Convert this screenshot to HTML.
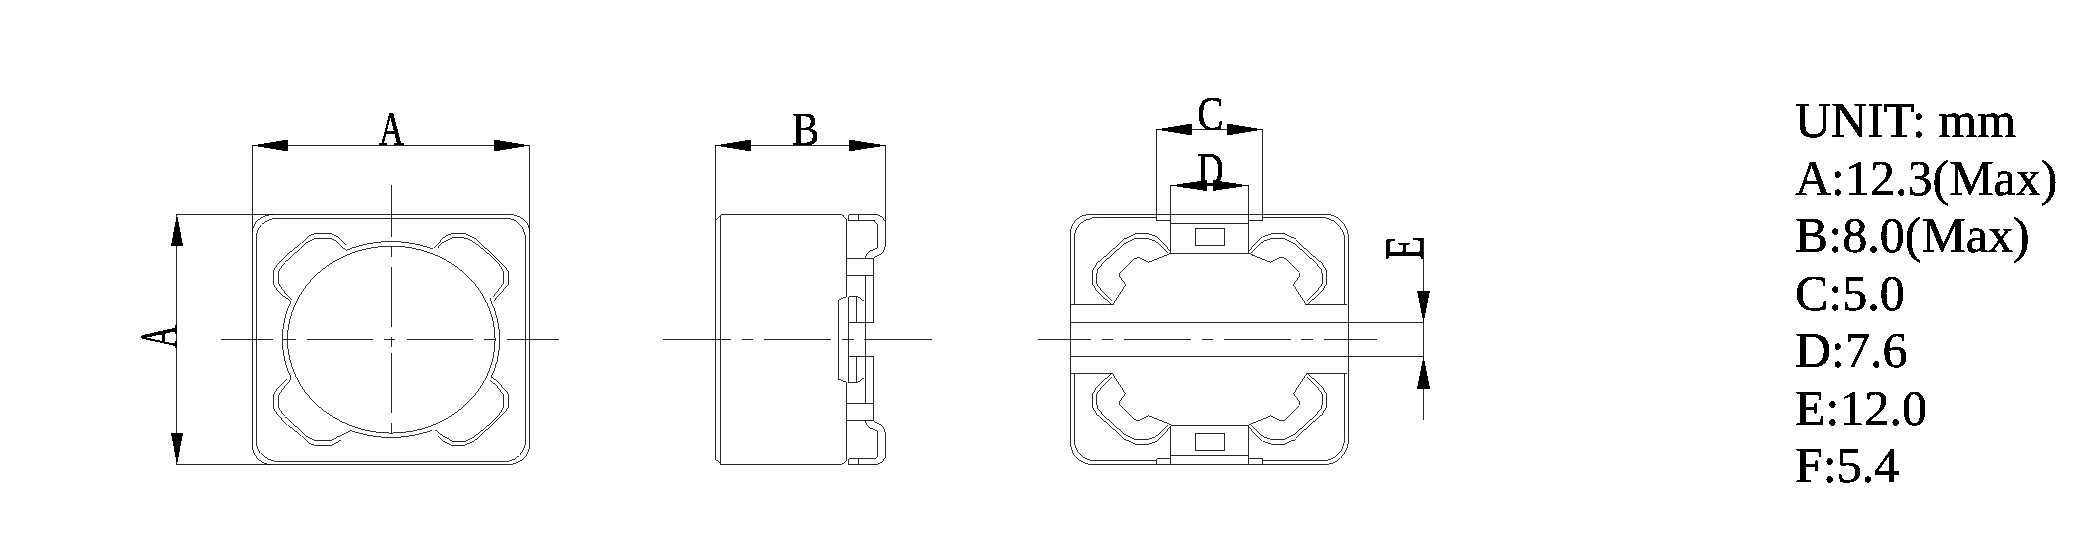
<!DOCTYPE html>
<html><head><meta charset="utf-8"><style>
html,body{margin:0;padding:0;background:#fff;}
svg{display:block;will-change:transform;}
.g path,.g rect,.g ellipse{fill:none;stroke:#282828;stroke-width:1;}
.g path.c,.g ellipse{stroke:#000;stroke-width:0.8;}
.f{fill:#000;stroke:none;}
.dl{font-family:"Liberation Serif",serif;font-size:47px;fill:#000;stroke:#000;stroke-width:0.6px;}
.rt{font-family:"Liberation Serif",serif;font-size:50px;fill:#000;stroke:#000;stroke-width:0.5px;}
</style></head><body>
<svg width="2079" height="547" viewBox="0 0 2079 547">
<rect x="0" y="0" width="2079" height="547" fill="#fff"/>
<g class="g" shape-rendering="crispEdges">
<path d="M252.50,145.50 L529.50,145.50"/>
<polygon class="f" points="252.00,145.50 288.00,151.50 288.00,139.50"/>
<polygon class="f" points="530.00,145.50 494.00,139.50 494.00,151.50"/>
<path d="M252.50,145.00 L252.50,234.00"/>
<path d="M529.50,145.00 L529.50,234.00"/>
<path d="M176.00,214.50 L274.00,214.50"/>
<path d="M176.00,464.50 L274.00,464.50"/>
<path d="M274.00,214.50 L508.80,214.50 M529.50,231.50 L529.50,445.20 M507.70,464.50 L271.30,464.50 M252.50,445.20 L252.50,232.00"/><path class="c" d="M252.50,232.00 L252.55,230.86 L252.68,229.72 L252.91,228.59 L253.23,227.47 L253.64,226.37 L254.14,225.30 L254.72,224.26 L255.38,223.25 L256.12,222.28 L256.94,221.35 L257.84,220.46 L258.80,219.63 L259.82,218.84 L260.91,218.12 L262.06,217.45 L263.25,216.84 L264.49,216.30 L265.77,215.83 L267.09,215.43 L268.44,215.10 L269.81,214.84 L271.19,214.65 L272.59,214.54 L274.00,214.50 M508.80,214.50 L510.15,214.54 L511.50,214.65 L512.84,214.83 L514.16,215.08 L515.45,215.40 L516.72,215.79 L517.96,216.25 L519.15,216.78 L520.30,217.37 L521.40,218.01 L522.45,218.72 L523.44,219.48 L524.36,220.29 L525.22,221.15 L526.01,222.06 L526.73,223.00 L527.37,223.98 L527.92,224.99 L528.40,226.04 L528.79,227.10 L529.10,228.18 L529.32,229.28 L529.46,230.39 L529.50,231.50 M529.50,445.20 L529.45,446.46 L529.31,447.72 L529.08,448.97 L528.76,450.20 L528.34,451.40 L527.84,452.59 L527.25,453.74 L526.58,454.85 L525.83,455.92 L525.00,456.95 L524.09,457.93 L523.11,458.85 L522.07,459.71 L520.97,460.51 L519.81,461.25 L518.60,461.91 L517.34,462.51 L516.04,463.03 L514.71,463.48 L513.34,463.84 L511.95,464.13 L510.55,464.33 L509.13,464.46 L507.70,464.50 M271.30,464.50 L270.07,464.46 L268.85,464.33 L267.63,464.13 L266.43,463.84 L265.26,463.48 L264.11,463.03 L262.98,462.51 L261.90,461.91 L260.86,461.25 L259.86,460.51 L258.90,459.71 L258.01,458.85 L257.17,457.93 L256.38,456.95 L255.67,455.92 L255.02,454.85 L254.44,453.74 L253.93,452.59 L253.50,451.40 L253.14,450.20 L252.86,448.97 L252.66,447.72 L252.54,446.46 L252.50,445.20"/>
<path d="M277.00,218.50 L507.00,218.50 M525.50,240.00 L525.50,440.70 M504.00,461.50 L279.50,461.50 M256.50,441.50 L256.50,237.00"/><path class="c" d="M256.50,237.00 L256.54,235.79 L256.68,234.59 L256.89,233.39 L257.20,232.21 L257.59,231.05 L258.06,229.92 L258.61,228.82 L259.25,227.75 L259.95,226.72 L260.74,225.74 L261.59,224.80 L262.50,223.92 L263.48,223.09 L264.52,222.32 L265.61,221.62 L266.75,220.98 L267.93,220.41 L269.15,219.91 L270.41,219.48 L271.69,219.13 L273.00,218.86 L274.32,218.66 L275.66,218.54 L277.00,218.50 M507.00,218.50 L508.21,218.55 L509.41,218.68 L510.61,218.91 L511.79,219.23 L512.95,219.64 L514.08,220.14 L515.18,220.72 L516.25,221.38 L517.28,222.12 L518.26,222.94 L519.20,223.84 L520.08,224.80 L520.91,225.82 L521.68,226.91 L522.38,228.06 L523.02,229.25 L523.59,230.49 L524.09,231.77 L524.52,233.09 L524.87,234.44 L525.14,235.81 L525.34,237.19 L525.46,238.59 L525.50,240.00 M525.50,440.70 L525.45,442.06 L525.32,443.41 L525.09,444.76 L524.77,446.08 L524.36,447.39 L523.86,448.66 L523.28,449.90 L522.62,451.10 L521.88,452.26 L521.06,453.36 L520.16,454.41 L519.20,455.41 L518.18,456.34 L517.09,457.20 L515.94,457.99 L514.75,458.71 L513.51,459.35 L512.23,459.92 L510.91,460.40 L509.56,460.79 L508.19,461.10 L506.81,461.32 L505.41,461.46 L504.00,461.50 M279.50,461.50 L278.00,461.46 L276.50,461.33 L275.01,461.12 L273.55,460.82 L272.11,460.44 L270.70,459.98 L269.33,459.44 L268.00,458.82 L266.72,458.13 L265.50,457.37 L264.34,456.54 L263.24,455.64 L262.21,454.69 L261.25,453.68 L260.38,452.61 L259.58,451.50 L258.87,450.35 L258.25,449.15 L257.72,447.93 L257.28,446.68 L256.94,445.40 L256.70,444.11 L256.55,442.81 L256.50,441.50"/>
<path d="M176.50,214.50 L176.50,464.50"/>
<polygon class="f" points="177.00,214.00 171.00,245.50 183.00,245.50"/>
<polygon class="f" points="177.00,465.00 183.00,433.00 171.00,433.00"/>
<ellipse cx="391.3" cy="339.6" rx="103.8" ry="93.5"/>
<path d="M390.73,241.60 L392.21,241.61"/><path class="c" d="M346.40,250.50 L347.64,249.74 L349.00,249.22 L350.37,248.71 L351.74,248.22 L353.12,247.75 L354.51,247.29 L355.91,246.85 L357.31,246.43 L358.72,246.03 L360.13,245.64 L361.55,245.27 L362.98,244.92 L364.41,244.58 L365.84,244.26 L367.28,243.96 L368.73,243.68 L370.17,243.42 L371.63,243.17 L373.08,242.94 L374.54,242.73 L376.00,242.54 L377.47,242.36 L378.94,242.21 L380.41,242.07 L381.88,241.95 L383.35,241.84 L384.83,241.76 L386.30,241.69 L387.78,241.64 L389.26,241.61 L390.73,241.60 M392.21,241.61 L393.69,241.63 L395.17,241.67 L396.64,241.73 L398.12,241.81 L399.59,241.91 L401.07,242.02 L402.54,242.15 L404.00,242.30 L405.47,242.47 L406.93,242.66 L408.39,242.86 L409.85,243.09 L411.30,243.33 L412.75,243.58 L414.20,243.86 L415.64,244.15 L417.08,244.46 L418.51,244.79 L419.94,245.14 L421.36,245.50 L422.78,245.88 L424.19,246.28 L425.59,246.70 L426.99,247.13 L428.38,247.58 L429.76,248.05 L431.14,248.53 L432.80,248.40"/>
<path d="M499.60,339.11 L499.59,340.45"/><path class="c" d="M490.40,298.30 L490.29,299.83 L490.88,301.07 L491.46,302.31 L492.02,303.56 L492.56,304.82 L493.08,306.08 L493.58,307.35 L494.06,308.63 L494.52,309.91 L494.96,311.20 L495.39,312.49 L495.79,313.79 L496.17,315.10 L496.53,316.40 L496.88,317.72 L497.20,319.03 L497.50,320.35 L497.79,321.68 L498.05,323.01 L498.29,324.34 L498.51,325.67 L498.71,327.01 L498.89,328.34 L499.05,329.68 L499.19,331.03 L499.31,332.37 L499.41,333.72 L499.49,335.06 L499.55,336.41 L499.58,337.76 L499.60,339.11 M499.59,340.45 L499.57,341.80 L499.52,343.15 L499.46,344.50 L499.37,345.84 L499.26,347.19 L499.14,348.53 L498.99,349.87 L498.82,351.21 L498.63,352.55 L498.42,353.89 L498.19,355.22 L497.94,356.55 L497.67,357.87 L497.38,359.20 L497.07,360.51 L496.74,361.83 L496.39,363.14 L496.02,364.45 L495.62,365.75 L495.21,367.04 L494.78,368.34 L494.33,369.62 L493.86,370.90 L493.37,372.18 L492.86,373.44 L492.34,374.70 L491.79,375.96 L492.00,377.50"/>
<path d="M391.19,437.40 L389.79,437.39"/><path class="c" d="M432.40,430.40 L430.94,430.54 L429.64,431.00 L428.32,431.44 L427.00,431.86 L425.67,432.28 L424.34,432.67 L423.00,433.05 L421.65,433.42 L420.31,433.77 L418.95,434.10 L417.59,434.42 L416.23,434.72 L414.86,435.01 L413.49,435.28 L412.11,435.53 L410.73,435.77 L409.35,435.99 L407.97,436.20 L406.58,436.39 L405.19,436.56 L403.80,436.72 L402.40,436.86 L401.00,436.98 L399.60,437.09 L398.20,437.18 L396.80,437.26 L395.40,437.32 L394.00,437.36 L392.59,437.39 L391.19,437.40 M389.79,437.39 L388.38,437.37 L386.98,437.33 L385.58,437.28 L384.17,437.21 L382.77,437.12 L381.37,437.01 L379.98,436.89 L378.58,436.76 L377.19,436.60 L375.80,436.44 L374.41,436.25 L373.02,436.05 L371.64,435.83 L370.26,435.60 L368.88,435.35 L367.51,435.08 L366.14,434.80 L364.77,434.50 L363.41,434.19 L362.06,433.86 L360.71,433.51 L359.36,433.15 L358.02,432.78 L356.69,432.38 L355.36,431.98 L354.03,431.55 L352.72,431.12 L351.41,430.66 L350.10,430.20"/>
<path d="M282.41,340.46 L282.40,339.15"/><path class="c" d="M291.50,378.70 L290.91,377.50 L290.36,376.29 L289.82,375.07 L289.30,373.84 L288.80,372.61 L288.32,371.37 L287.85,370.13 L287.40,368.88 L286.98,367.62 L286.57,366.36 L286.18,365.10 L285.81,363.83 L285.45,362.55 L285.12,361.28 L284.81,359.99 L284.51,358.71 L284.23,357.42 L283.98,356.13 L283.74,354.83 L283.52,353.54 L283.32,352.24 L283.14,350.93 L282.98,349.63 L282.84,348.32 L282.72,347.01 L282.62,345.70 L282.54,344.39 L282.47,343.08 L282.43,341.77 L282.41,340.46 M282.40,339.15 L282.42,337.83 L282.45,336.52 L282.50,335.21 L282.58,333.90 L282.67,332.59 L282.78,331.28 L282.92,329.97 L283.07,328.67 L283.24,327.36 L283.43,326.06 L283.64,324.76 L283.87,323.47 L284.11,322.17 L284.38,320.88 L284.67,319.60 L284.97,318.31 L285.30,317.03 L285.64,315.76 L286.00,314.49 L286.39,313.22 L286.79,311.96 L287.21,310.70 L287.64,309.45 L288.10,308.20 L288.57,306.96 L289.07,305.73 L289.58,304.50 L290.11,303.27 L290.50,302.00"/>
<path d="M330.60,238.50 L315.70,238.50"/><path class="c" d="M346.40,250.50 L341.00,246.00 L337.50,242.20 L332.80,239.30 L330.60,238.50 M315.70,238.50 L313.90,239.00 L306.60,242.60 L302.40,246.70 L293.80,254.50 L284.60,262.70 L278.70,271.00 L278.50,283.30 L281.50,288.00 L284.90,292.40 L291.70,299.70"/>
<path d="M330.60,233.50 L315.70,233.50"/><path class="c" d="M345.60,244.60 L339.40,238.20 L337.50,237.00 L332.80,234.10 L330.60,233.50 M315.70,233.50 L310.20,235.30 L306.60,238.00 L301.50,242.60 L299.30,244.90 L292.90,249.90 L288.30,253.60 L281.90,260.50 L278.20,263.70 L275.50,267.30 L273.70,271.00 L273.50,284.70 L277.10,290.10 L279.90,293.30 L283.50,296.50 L290.50,302.00"/>
<path d="M452.20,233.40 L465.00,233.40 M508.40,271.20 L508.40,284.40"/><path class="c" d="M432.80,248.40 L441.90,238.50 L449.20,234.50 L452.20,233.40 M465.00,233.40 L474.60,238.20 L482.00,244.80 L492.20,254.30 L503.90,266.00 L508.40,271.20 M508.40,284.40 L494.20,300.50"/>
<path d="M453.30,237.60 L461.00,237.60 M503.50,271.90 L503.50,283.40"/><path class="c" d="M437.90,247.70 L441.90,243.30 L450.70,238.50 L453.30,237.60 M461.00,237.60 L466.80,238.50 L474.60,242.60 L482.00,248.50 L490.70,255.80 L499.50,264.60 L503.50,271.90 M503.50,283.40 L493.20,296.80"/>
<path d="M452.20,445.50 L463.10,445.50 M508.40,407.80 L508.40,394.00"/><path class="c" d="M438.30,436.20 L442.70,440.60 L445.60,442.40 L450.70,444.60 L452.20,445.50 M463.10,445.50 L470.00,443.10 L474.60,440.80 L482.00,434.20 L492.20,424.70 L503.90,413.00 L508.40,407.80 M508.40,394.00 L497.30,381.20 L492.00,377.50"/>
<path d="M453.30,441.30 L465.70,441.30 M503.50,407.10 L503.50,394.80"/><path class="c" d="M434.60,429.30 L439.70,433.60 L442.70,435.80 L452.20,441.00 L453.30,441.30 M465.70,441.30 L470.00,439.10 L474.60,436.40 L482.00,430.50 L490.70,423.20 L499.50,414.40 L503.50,407.10 M503.50,394.80 L496.00,385.20 L490.10,380.20"/>
<path d="M330.60,440.50 L315.70,440.50"/><path class="c" d="M350.10,430.20 L337.50,436.80 L332.80,439.70 L330.60,440.50 M315.70,440.50 L313.90,440.00 L306.60,436.40 L302.40,432.30 L293.80,424.50 L284.60,416.30 L278.70,408.00 L278.50,395.70 L281.50,391.00 L284.90,386.60 L291.50,378.70"/>
<path d="M330.60,445.50 L315.70,445.50"/><path class="c" d="M340.50,440.40 L332.80,444.90 L330.60,445.50 M315.70,445.50 L310.20,443.70 L306.60,441.00 L301.50,436.40 L299.30,434.10 L292.90,429.10 L288.30,425.40 L281.90,418.50 L278.20,415.30 L275.50,411.70 L273.70,408.00 L273.50,394.30 L277.10,388.90 L279.90,385.70 L286.90,379.10"/>
<path d="M221.00,339.50 L273.00,339.50"/>
<path d="M283.00,339.50 L296.00,339.50"/>
<path d="M307.00,339.50 L373.00,339.50"/>
<path d="M384.00,339.50 L395.00,339.50"/>
<path d="M407.00,339.50 L473.00,339.50"/>
<path d="M484.00,339.50 L496.00,339.50"/>
<path d="M507.00,339.50 L559.00,339.50"/>
<path d="M391.50,185.00 L391.50,237.00"/>
<path d="M391.50,246.00 L391.50,257.00"/>
<path d="M391.50,267.00 L391.50,327.00"/>
<path d="M391.50,337.00 L391.50,347.00"/>
<path d="M391.50,353.00 L391.50,413.00"/>
<path d="M391.50,423.00 L391.50,433.50"/>
<path d="M715.50,145.50 L885.50,145.50"/>
<polygon class="f" points="715.00,145.50 751.00,151.50 751.00,139.50"/>
<polygon class="f" points="886.00,145.50 849.00,139.50 849.00,151.50"/>
<path d="M715.50,145.50 L715.50,460.00"/>
<path d="M720.50,214.50 L841.00,214.50 M846.50,219.50 L846.50,296.20"/><path class="c" d="M715.50,219.00 L720.50,214.50 M841.00,214.50 L843.50,216.00 L846.50,219.50 M846.50,296.20 L838.50,299.50"/>
<path d="M720.50,464.50 L841.00,464.50 M846.50,459.50 L846.50,382.80"/><path class="c" d="M715.50,460.00 L720.50,464.50 M841.00,464.50 L843.50,463.00 L846.50,459.50 M846.50,382.80 L838.50,379.50"/>
<path d="M838.50,299.50 L838.50,379.50"/>
<path d="M720.50,214.50 L720.50,464.50"/>
<path d="M848.50,214.50 L876.70,214.50"/><path class="c" d="M876.70,214.50 L882.20,217.00 L885.50,222.00"/>
<path d="M848.50,464.50 L876.70,464.50"/><path class="c" d="M876.70,464.50 L882.20,462.00 L885.50,457.00"/>
<path d="M885.50,222.00 L885.50,245.00"/>
<path d="M885.50,457.00 L885.50,434.00"/>
<path class="c" d="M885.50,245.00 L884.00,250.00 L882.20,253.30 L874.00,257.60 L873.50,258.00"/>
<path class="c" d="M885.50,434.00 L884.00,429.00 L882.20,425.70 L874.00,421.40 L873.50,421.00"/>
<path d="M848.50,214.50 L848.50,220.50"/>
<path d="M848.50,464.50 L848.50,458.50"/>
<path d="M858.50,214.50 L858.50,220.50"/>
<path d="M858.50,464.50 L858.50,458.50"/>
<path d="M848.50,220.50 L874.50,220.50 M877.50,223.50 L877.50,247.80"/><path class="c" d="M874.50,220.50 L877.50,223.50 M877.50,247.80 L870.10,251.10 L867.00,254.00 L865.20,258.20"/>
<path d="M848.50,458.50 L874.50,458.50 M877.50,455.50 L877.50,431.20"/><path class="c" d="M874.50,458.50 L877.50,455.50 M877.50,431.20 L870.10,427.90 L867.00,425.00 L865.20,420.80"/>
<path d="M846.50,258.50 L873.50,258.50"/>
<path d="M846.50,420.50 L873.50,420.50"/>
<path d="M846.50,275.50 L873.50,275.50"/>
<path d="M846.50,403.50 L873.50,403.50"/>
<path d="M873.50,258.50 L873.50,322.50"/>
<path d="M873.50,420.50 L873.50,356.50"/>
<path d="M865.50,275.50 L865.50,339.50"/>
<path d="M865.50,403.50 L865.50,339.50"/>
<path d="M848.50,296.50 L848.50,339.50"/>
<path d="M848.50,382.50 L848.50,339.50"/>
<path d="M848.50,296.50 L856.50,296.50"/><path class="c" d="M856.50,296.50 L863.70,301.70"/>
<path d="M848.50,382.50 L856.50,382.50"/><path class="c" d="M856.50,382.50 L863.70,377.30"/>
<path d="M856.50,296.50 L856.50,322.50"/>
<path d="M856.50,382.50 L856.50,356.50"/>
<path d="M848.50,322.50 L873.50,322.50"/>
<path d="M848.50,356.50 L873.50,356.50"/>
<path d="M885.50,145.50 L885.50,222.00"/>
<path d="M663.00,339.50 L731.00,339.50"/>
<path d="M742.00,339.50 L753.00,339.50"/>
<path d="M764.00,339.50 L831.00,339.50"/>
<path d="M842.00,339.50 L853.50,339.50"/>
<path d="M864.00,339.50 L932.00,339.50"/>
<path d="M1156.50,129.50 L1262.50,129.50"/>
<polygon class="f" points="1156.00,129.50 1192.00,135.50 1192.00,123.50"/>
<polygon class="f" points="1263.00,129.50 1227.00,123.50 1227.00,135.50"/>
<path d="M1156.50,129.50 L1156.50,220.50"/>
<path d="M1262.50,129.50 L1262.50,220.50"/>
<path d="M1170.50,185.50 L1248.50,185.50"/>
<polygon class="f" points="1170.00,185.50 1206.50,191.00 1206.50,180.00"/>
<polygon class="f" points="1249.00,185.50 1212.50,180.00 1212.50,191.00"/>
<path d="M1170.50,185.50 L1170.50,253.50"/>
<path d="M1248.50,185.50 L1248.50,253.50"/>
<path d="M1090.20,214.50 L1326.70,214.50 M1348.50,239.50 L1348.50,438.90 M1324.80,464.50 L1092.50,464.50 M1070.50,442.50 L1070.50,233.20"/><path class="c" d="M1070.50,233.20 L1070.54,231.98 L1070.67,230.76 L1070.88,229.55 L1071.17,228.36 L1071.55,227.19 L1072.00,226.04 L1072.53,224.93 L1073.14,223.85 L1073.82,222.81 L1074.57,221.82 L1075.39,220.87 L1076.27,219.98 L1077.21,219.14 L1078.21,218.36 L1079.26,217.65 L1080.35,217.01 L1081.49,216.43 L1082.66,215.92 L1083.87,215.49 L1085.10,215.14 L1086.36,214.86 L1087.63,214.66 L1088.91,214.54 L1090.20,214.50 M1326.70,214.50 L1328.13,214.55 L1329.55,214.71 L1330.95,214.98 L1332.34,215.35 L1333.71,215.83 L1335.04,216.40 L1336.34,217.08 L1337.60,217.85 L1338.81,218.71 L1339.97,219.67 L1341.07,220.70 L1342.11,221.82 L1343.09,223.02 L1344.00,224.28 L1344.83,225.61 L1345.58,227.00 L1346.25,228.44 L1346.84,229.93 L1347.34,231.46 L1347.76,233.03 L1348.08,234.62 L1348.31,236.24 L1348.45,237.86 L1348.50,239.50 M1348.50,438.90 L1348.45,440.57 L1348.30,442.24 L1348.04,443.89 L1347.69,445.53 L1347.24,447.13 L1346.70,448.70 L1346.06,450.22 L1345.32,451.70 L1344.51,453.12 L1343.60,454.48 L1342.62,455.78 L1341.56,457.00 L1340.43,458.15 L1339.23,459.21 L1337.97,460.19 L1336.65,461.07 L1335.28,461.86 L1333.87,462.55 L1332.42,463.14 L1330.93,463.63 L1329.42,464.01 L1327.89,464.28 L1326.35,464.45 L1324.80,464.50 M1092.50,464.50 L1091.06,464.45 L1089.63,464.31 L1088.21,464.08 L1086.81,463.75 L1085.43,463.33 L1084.08,462.83 L1082.77,462.23 L1081.50,461.55 L1080.28,460.79 L1079.11,459.95 L1077.99,459.04 L1076.94,458.06 L1075.96,457.01 L1075.05,455.89 L1074.21,454.72 L1073.45,453.50 L1072.77,452.23 L1072.17,450.92 L1071.67,449.57 L1071.25,448.19 L1070.92,446.79 L1070.69,445.37 L1070.55,443.94 L1070.50,442.50"/>
<path d="M1074.50,304.50 L1074.50,237.20 M1097.20,217.50 L1156.50,217.50"/><path class="c" d="M1074.50,237.20 L1074.55,235.91 L1074.69,234.63 L1074.94,233.36 L1075.27,232.10 L1075.70,230.87 L1076.23,229.66 L1076.84,228.49 L1077.54,227.35 L1078.33,226.26 L1079.19,225.21 L1080.13,224.21 L1081.15,223.27 L1082.23,222.39 L1083.38,221.57 L1084.59,220.82 L1085.85,220.14 L1087.16,219.53 L1088.51,219.00 L1089.90,218.55 L1091.32,218.17 L1092.77,217.88 L1094.24,217.67 L1095.72,217.54 L1097.20,217.50"/>
<path d="M1262.50,217.50 L1320.50,217.50 M1344.50,240.00 L1344.50,304.50"/><path class="c" d="M1320.50,217.50 L1322.07,217.55 L1323.63,217.69 L1325.18,217.93 L1326.71,218.27 L1328.21,218.69 L1329.68,219.21 L1331.11,219.82 L1332.50,220.51 L1333.83,221.29 L1335.11,222.15 L1336.32,223.08 L1337.47,224.09 L1338.54,225.16 L1339.54,226.30 L1340.46,227.50 L1341.28,228.75 L1342.02,230.05 L1342.67,231.39 L1343.23,232.77 L1343.68,234.18 L1344.04,235.61 L1344.29,237.06 L1344.45,238.53 L1344.50,240.00"/>
<path d="M1344.50,373.50 L1344.50,437.90 M1324.00,460.50 L1262.50,460.50"/><path class="c" d="M1344.50,437.90 L1344.46,439.38 L1344.32,440.85 L1344.11,442.31 L1343.80,443.75 L1343.41,445.16 L1342.94,446.55 L1342.39,447.90 L1341.75,449.20 L1341.05,450.46 L1340.26,451.66 L1339.41,452.80 L1338.50,453.88 L1337.52,454.89 L1336.48,455.83 L1335.39,456.69 L1334.25,457.47 L1333.07,458.17 L1331.85,458.78 L1330.59,459.30 L1329.31,459.73 L1328.00,460.07 L1326.68,460.31 L1325.34,460.45 L1324.00,460.50"/>
<path d="M1156.50,460.50 L1094.00,460.50 M1074.50,440.50 L1074.50,373.50"/><path class="c" d="M1094.00,460.50 L1092.72,460.46 L1091.45,460.33 L1090.20,460.12 L1088.95,459.82 L1087.73,459.44 L1086.54,458.98 L1085.38,458.44 L1084.25,457.82 L1083.17,457.13 L1082.13,456.37 L1081.14,455.54 L1080.21,454.64 L1079.34,453.69 L1078.53,452.68 L1077.79,451.61 L1077.11,450.50 L1076.51,449.35 L1075.98,448.15 L1075.53,446.93 L1075.16,445.68 L1074.87,444.40 L1074.67,443.11 L1074.54,441.81 L1074.50,440.50"/>
<path d="M1156.50,220.50 L1170.50,220.50"/>
<path d="M1156.50,458.50 L1170.50,458.50"/>
<path d="M1248.50,220.50 L1262.50,220.50"/>
<path d="M1248.50,458.50 L1262.50,458.50"/>
<path d="M1170.50,223.50 L1248.50,223.50"/>
<path d="M1170.50,455.50 L1248.50,455.50"/>
<path d="M1170.50,253.50 L1248.50,253.50"/>
<path d="M1170.50,425.50 L1248.50,425.50"/>
<rect x="1195.5" y="228.5" width="29" height="17"/>
<rect x="1195.5" y="433.5" width="29" height="17"/>
<path d="M1170.50,425.50 L1170.50,464.50"/>
<path d="M1248.50,425.50 L1248.50,464.50"/>
<path d="M1156.50,458.50 L1156.50,464.50"/>
<path d="M1262.50,458.50 L1262.50,464.50"/>
<path d="M1070.50,322.50 L1423.50,322.50"/>
<path d="M1070.50,356.50 L1423.50,356.50"/>
<path d="M1070.50,304.50 L1113.00,304.50"/>
<path d="M1070.50,373.50 L1113.00,373.50"/>
<path d="M1306.00,304.50 L1346.50,304.50"/>
<path d="M1306.00,373.50 L1346.50,373.50"/>
<path d="M1092.60,283.80 L1092.60,271.00 M1134.60,233.50 L1148.00,233.50"/><path class="c" d="M1112.00,304.50 L1109.70,303.00 L1100.00,293.80 L1095.50,289.30 L1092.60,283.80 M1092.60,271.00 L1094.00,268.20 L1097.10,263.20 L1104.00,257.30 L1106.30,255.40 L1112.70,249.50 L1115.00,247.70 L1122.70,240.30 L1125.50,238.00 L1134.60,233.50 M1148.00,233.50 L1156.50,236.70 L1166.60,246.80 L1169.70,251.40"/>
<path d="M1326.40,283.80 L1326.40,271.00 M1284.40,233.50 L1271.00,233.50"/><path class="c" d="M1307.00,304.50 L1309.30,303.00 L1319.00,293.80 L1323.50,289.30 L1326.40,283.80 M1326.40,271.00 L1325.00,268.20 L1321.90,263.20 L1315.00,257.30 L1312.70,255.40 L1306.30,249.50 L1304.00,247.70 L1296.30,240.30 L1293.50,238.00 L1284.40,233.50 M1271.00,233.50 L1262.50,236.70 L1252.40,246.80 L1249.30,251.40"/>
<path d="M1092.60,394.20 L1092.60,407.00 M1134.60,444.50 L1148.00,444.50"/><path class="c" d="M1112.00,373.50 L1109.70,375.00 L1100.00,384.20 L1095.50,388.70 L1092.60,394.20 M1092.60,407.00 L1094.00,409.80 L1097.10,414.80 L1104.00,420.70 L1106.30,422.60 L1112.70,428.50 L1115.00,430.30 L1122.70,437.70 L1125.50,440.00 L1134.60,444.50 M1148.00,444.50 L1156.50,441.30 L1166.60,431.20 L1169.70,426.60"/>
<path d="M1326.40,394.20 L1326.40,407.00 M1284.40,444.50 L1271.00,444.50"/><path class="c" d="M1307.00,373.50 L1309.30,375.00 L1319.00,384.20 L1323.50,388.70 L1326.40,394.20 M1326.40,407.00 L1325.00,409.80 L1321.90,414.80 L1315.00,420.70 L1312.70,422.60 L1306.30,428.50 L1304.00,430.30 L1296.30,437.70 L1293.50,440.00 L1284.40,444.50 M1271.00,444.50 L1262.50,441.30 L1252.40,431.20 L1249.30,426.60"/>
<path d="M1096.90,284.20 L1096.90,273.70 M1134.60,238.50 L1147.20,238.50"/><path class="c" d="M1111.90,300.70 L1103.70,292.90 L1099.10,287.40 L1096.90,284.20 M1096.90,273.70 L1097.30,270.00 L1105.40,260.40 L1109.00,257.70 L1115.90,251.30 L1119.10,248.60 L1124.60,243.50 L1134.60,238.50 M1147.20,238.50 L1155.70,241.30 L1168.00,252.50"/>
<path d="M1322.10,284.20 L1322.10,273.70 M1284.40,238.50 L1271.80,238.50"/><path class="c" d="M1307.10,300.70 L1315.30,292.90 L1319.90,287.40 L1322.10,284.20 M1322.10,273.70 L1321.70,270.00 L1313.60,260.40 L1310.00,257.70 L1303.10,251.30 L1299.90,248.60 L1294.40,243.50 L1284.40,238.50 M1271.80,238.50 L1263.30,241.30 L1251.00,252.50"/>
<path d="M1096.90,393.80 L1096.90,404.30 M1134.60,439.50 L1147.20,439.50"/><path class="c" d="M1111.90,377.30 L1103.70,385.10 L1099.10,390.60 L1096.90,393.80 M1096.90,404.30 L1097.30,408.00 L1105.40,417.60 L1109.00,420.30 L1115.90,426.70 L1119.10,429.40 L1124.60,434.50 L1134.60,439.50 M1147.20,439.50 L1155.70,436.70 L1168.00,425.50"/>
<path d="M1322.10,393.80 L1322.10,404.30 M1284.40,439.50 L1271.80,439.50"/><path class="c" d="M1307.10,377.30 L1315.30,385.10 L1319.90,390.60 L1322.10,393.80 M1322.10,404.30 L1321.70,408.00 L1313.60,417.60 L1310.00,420.30 L1303.10,426.70 L1299.90,429.40 L1294.40,434.50 L1284.40,439.50 M1271.80,439.50 L1263.30,436.70 L1251.00,425.50"/>
<path class="c" d="M1170.50,253.50 L1148.70,262.30 L1138.60,257.30 L1135.50,258.00 L1120.00,273.20 L1119.50,276.30 L1125.70,284.80 L1113.00,304.50"/>
<path class="c" d="M1248.50,253.50 L1270.30,262.30 L1280.40,257.30 L1283.50,258.00 L1299.00,273.20 L1299.50,276.30 L1293.30,284.80 L1306.00,304.50"/>
<path class="c" d="M1170.50,424.50 L1148.70,415.70 L1138.60,420.70 L1135.50,420.00 L1120.00,404.80 L1119.50,401.70 L1125.70,393.20 L1113.00,373.50"/>
<path class="c" d="M1248.50,424.50 L1270.30,415.70 L1280.40,420.70 L1283.50,420.00 L1299.00,404.80 L1299.50,401.70 L1293.30,393.20 L1306.00,373.50"/>
<path d="M1038.00,339.50 L1091.00,339.50"/>
<path d="M1102.00,339.50 L1113.00,339.50"/>
<path d="M1124.00,339.50 L1191.00,339.50"/>
<path d="M1202.00,339.50 L1213.00,339.50"/>
<path d="M1224.00,339.50 L1291.00,339.50"/>
<path d="M1301.00,339.50 L1313.00,339.50"/>
<path d="M1324.00,339.50 L1377.00,339.50"/>
<path d="M1423.50,238.00 L1423.50,419.50"/>
<polygon class="f" points="1423.50,322.50 1430.00,290.50 1417.00,290.50"/>
<polygon class="f" points="1423.50,356.50 1417.00,388.50 1430.00,388.50"/>
</g>
<defs><filter id="th" x="0" y="0" width="2079" height="547" filterUnits="userSpaceOnUse" color-interpolation-filters="sRGB"><feComponentTransfer><feFuncA type="discrete" tableValues="0 1"/></feComponentTransfer></filter></defs>
<g filter="url(#th)">

<text class="dl" transform="translate(391.5,145.3) scale(0.72,1)" style="font-size:48px" text-anchor="middle">A</text>
<text class="dl" transform="translate(176.6,336.6) rotate(-90) scale(0.60,1)" style="font-size:53px" text-anchor="middle">A</text>
<text class="dl" transform="translate(805.6,145) scale(0.86,1)" style="font-size:47px" text-anchor="middle">B</text>
<text class="dl" transform="translate(1210.2,129.5) scale(0.8,1)" style="font-size:49px" text-anchor="middle">C</text>
<text class="dl" transform="translate(1210.5,185.5) scale(0.76,1)" style="font-size:48px" text-anchor="middle">D</text>
<text class="dl" transform="translate(1422.6,248) rotate(-90) scale(0.72,1)" style="font-size:54px" text-anchor="middle">E</text>

<text class="rt" transform="translate(1795,137.3) scale(1,1.03)">UNIT: mm</text>
<text class="rt" transform="translate(1795,195.1) scale(1,1.03)">A:12.3(Max)</text>
<text class="rt" transform="translate(1795,252.4) scale(1,1.03)">B:8.0(Max)</text>
<text class="rt" transform="translate(1795,310.2) scale(1,1.03)">C:5.0</text>
<text class="rt" transform="translate(1795,366.9) scale(1,1.03)">D:7.6</text>
<text class="rt" transform="translate(1795,424.9) scale(1,1.03)">E:12.0</text>
<text class="rt" transform="translate(1795,481.7) scale(1,1.03)">F:5.4</text>
</g>
</svg>
</body></html>
